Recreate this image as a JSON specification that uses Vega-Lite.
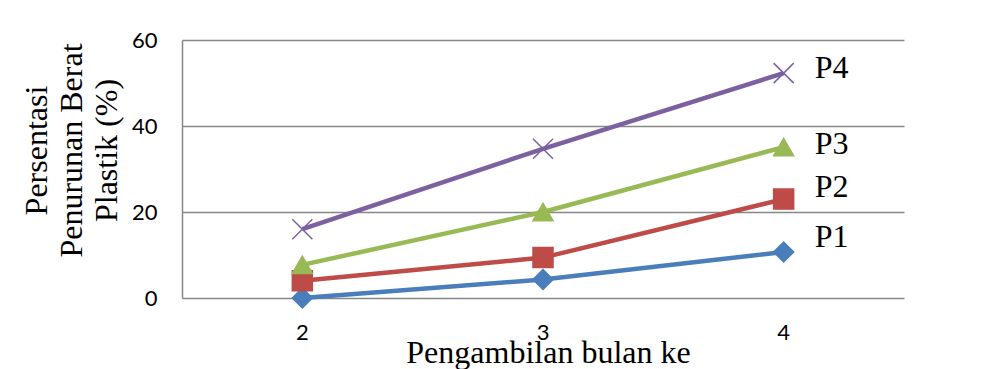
{
  "$schema": "https://vega.github.io/schema/vega-lite/v6.json",
  "width": 722,
  "height": 258,
  "autosize": {"type": "none"},
  "padding": {"left": 182, "top": 40, "right": 99, "bottom": 71},
  "background": "white",
  "config": {"view": {"stroke": null}},
  "datasets": {
    "series": [
      {"bulan": "2", "seri": "P1", "nilai": 0},
      {"bulan": "3", "seri": "P1", "nilai": 4.3},
      {"bulan": "4", "seri": "P1", "nilai": 10.7},
      {"bulan": "2", "seri": "P2", "nilai": 4.0},
      {"bulan": "3", "seri": "P2", "nilai": 9.4},
      {"bulan": "4", "seri": "P2", "nilai": 23.0},
      {"bulan": "2", "seri": "P3", "nilai": 7.7},
      {"bulan": "3", "seri": "P3", "nilai": 20.0},
      {"bulan": "4", "seri": "P3", "nilai": 35.1},
      {"bulan": "2", "seri": "P4", "nilai": 16.0},
      {"bulan": "3", "seri": "P4", "nilai": 34.7},
      {"bulan": "4", "seri": "P4", "nilai": 52.3}
    ],
    "labels": [
      {"bulan": "4", "seri": "P1", "pos": 14.1},
      {"bulan": "4", "seri": "P2", "pos": 25.7},
      {"bulan": "4", "seri": "P3", "pos": 35.9},
      {"bulan": "4", "seri": "P4", "pos": 53.4}
    ]
  },
  "layer": [
    {
      "data": {"name": "series"},
      "mark": {"type": "line", "strokeWidth": 4.5},
      "encoding": {
        "x": {
          "field": "bulan", "type": "ordinal",
          "scale": {"type": "band", "paddingInner": 0, "paddingOuter": 0},
          "axis": {
            "title": "Pengambilan bulan ke",
            "titleFont": "Liberation Serif", "titleFontSize": 32, "titleFontWeight": "normal", "titleColor": "black",
            "titleY": 64, "titleX": 366, "titleBaseline": "alphabetic",
            "labelFont": "Lato", "labelFontSize": 22, "labelColor": "black", "labelAngle": 0,
            "labelPadding": 24, "domain": false, "ticks": false, "grid": false
          }
        },
        "y": {
          "field": "nilai", "type": "quantitative",
          "scale": {"domain": [0, 60]},
          "axis": {
            "values": [0, 20, 40, 60],
            "title": ["Persentasi", "Penurunan Berat", "Plastik (%)"],
            "titleFont": "Liberation Serif", "titleFontSize": 32, "titleFontWeight": "normal", "titleColor": "black",
            "titleLineHeight": 35, "titleX": -146, "titleY": 110, "titleBaseline": "middle", "titleAngle": 270,
            "labelFont": "Lato", "labelFontSize": 22, "labelColor": "black", "labelPadding": 25,
            "ticks": false, "domain": true, "domainColor": "#878787", "domainWidth": 1.5,
            "grid": true, "gridColor": "#878787", "gridWidth": 1.5
          }
        },
        "color": {
          "field": "seri", "type": "nominal",
          "scale": {"domain": ["P1", "P2", "P3", "P4"], "range": ["#4A7EBB", "#BE4B48", "#98B954", "#7D60A0"]},
          "legend": null
        }
      }
    },
    {
      "data": {"name": "series"},
      "mark": {"type": "point", "filled": false, "size": 400, "strokeWidth": 1.5, "opacity": 1},
      "encoding": {
        "x": {"field": "bulan", "type": "ordinal"},
        "y": {"field": "nilai", "type": "quantitative"},
        "shape": {
          "field": "seri", "type": "nominal",
          "scale": {"domain": ["P1", "P2", "P3", "P4"], "range": ["diamond", "square", "triangle-up", "M-1,-1L1,1M1,-1L-1,1"]},
          "legend": null
        },
        "fill": {
          "field": "seri", "type": "nominal",
          "scale": {"domain": ["P1", "P2", "P3", "P4"], "range": ["#4A7EBB", "#BE4B48", "#98B954", "transparent"]},
          "legend": null
        },
        "stroke": {
          "field": "seri", "type": "nominal",
          "scale": {"domain": ["P1", "P2", "P3", "P4"], "range": ["#4A7EBB", "#BE4B48", "#98B954", "#7D60A0"]},
          "legend": null
        }
      }
    },
    {
      "data": {"name": "labels"},
      "mark": {"type": "text", "font": "Liberation Serif", "fontSize": 32, "align": "left", "baseline": "middle", "dx": 31, "color": "black"},
      "encoding": {
        "x": {"field": "bulan", "type": "ordinal"},
        "y": {"field": "pos", "type": "quantitative"},
        "text": {"field": "seri"}
      }
    }
  ]
}
